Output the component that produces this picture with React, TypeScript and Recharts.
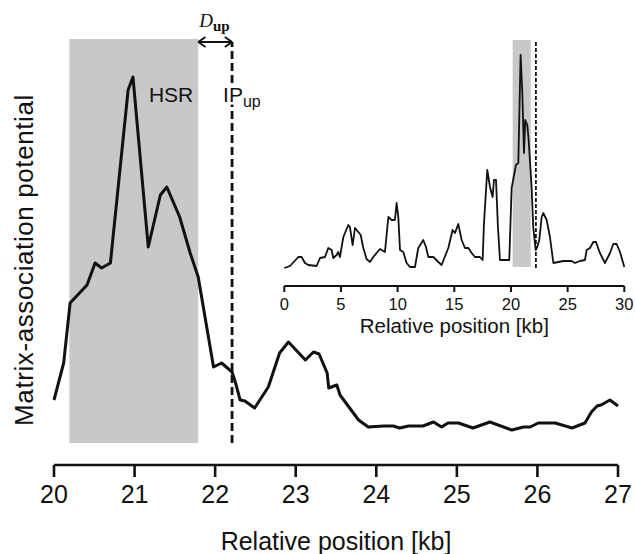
import React from 'react'
import {
  LineChart, Line, XAxis, YAxis, ReferenceArea, ReferenceLine, Label,
} from 'recharts'

const FONT = '"Liberation Sans", Arial, Helvetica, sans-serif'
const INK = '#111'
const SHADE = '#c8c8c8'

// main panel: 20–27 kb
const MAIN_TICKS = [20, 21, 22, 23, 24, 25, 26, 27]
const MAIN_POS = [
  20.0, 20.12, 20.2, 20.41, 20.51, 20.59, 20.7, 20.92, 20.98, 21.17, 21.32, 21.4, 21.56, 21.69, 21.79,
  21.98, 22.08, 22.21, 22.25, 22.31, 22.37, 22.49, 22.66, 22.8, 22.91, 23.12, 23.22, 23.29, 23.39, 23.41,
  23.51, 23.55, 23.78, 23.9, 24.09, 24.21, 24.29, 24.4, 24.58, 24.71, 24.81, 24.89, 25.02, 25.2, 25.41,
  25.68, 25.83, 25.91, 26.01, 26.22, 26.43, 26.59, 26.67, 26.74, 26.79, 26.9, 27.0,
]
const MAIN_MAP = [
  65, 102, 162, 180, 202, 197, 202, 375, 388, 218, 270, 278, 248, 212, 188,
  98, 102, 93, 83, 65, 64, 57, 78, 112, 123, 105, 113, 111, 92, 77,
  80, 70, 45, 38, 39, 39, 37, 39, 39, 43, 38, 42, 42, 37, 43,
  35, 38, 38, 42, 42, 37, 42, 53, 59, 60, 65, 59,
]

// inset: whole 0–30 kb region
const INSET_TICKS = [0, 5, 10, 15, 20, 25, 30]
const INSET_POS = [
  0, 0.5, 1.24, 1.53, 1.82, 2.12, 2.85, 3.15, 3.59, 3.88, 4.18, 4.32, 4.62, 4.76, 4.91,
  5.21, 5.65, 5.79, 6.03, 6.24, 6.53, 6.74, 6.97, 7.26, 7.56, 7.85, 8.44, 8.88, 9.18, 9.47,
  9.76, 9.91, 10.06, 10.21, 10.5, 10.79, 11.09, 11.53, 11.82, 12.26, 12.5, 12.71, 13.15, 13.59, 13.88,
  14.47, 14.85, 15.06, 15.35, 15.65, 15.94, 16.24, 16.53, 16.82, 17.26, 17.5, 17.62, 17.91, 18.15, 18.38,
  18.5, 18.68, 18.85, 19.03, 19.85, 20.06, 20.44, 20.65, 20.85, 21.0, 21.15, 21.26, 21.44, 21.56, 21.82,
  21.97, 22.18, 22.32, 22.5, 22.71, 22.85, 23.15, 23.44, 23.74, 24.62, 25.35, 25.65, 26.09, 26.53, 26.68,
  26.97, 27.26, 27.5, 27.85, 28.29, 28.74, 29.03, 29.32, 29.62, 30,
]
const INSET_MAP = [
  18, 20, 29, 29, 23, 21, 20, 28, 29, 38, 36, 28, 31, 34, 29,
  49, 61, 59, 41, 58, 54, 51, 38, 27, 24, 29, 37, 34, 69, 66,
  66, 83, 69, 36, 34, 23, 19, 19, 38, 46, 39, 29, 29, 24, 21,
  38, 56, 53, 62, 46, 38, 38, 33, 29, 29, 26, 63, 116, 99, 89,
  106, 106, 59, 26, 26, 98, 121, 123, 231, 194, 133, 166, 161, 146, 99,
  58, 36, 39, 46, 69, 73, 66, 49, 23, 25, 25, 23, 25, 26, 36,
  38, 44, 44, 33, 23, 33, 42, 42, 34, 19,
]

const HSR = [20.19, 21.79]
const IP_UP = 22.21
const INSET_HSR = [20.15, 21.75]
const INSET_IP = 22.2

const mainData = MAIN_POS.map((x, i) => ({ x, y: MAIN_MAP[i] }))
const insetData = INSET_POS.map((x, i) => ({ x, y: INSET_MAP[i] }))

function HsrLabel({ viewBox }: any) {
  if (!viewBox) return null
  return (
    <text x={viewBox.x + viewBox.width - 5} y={viewBox.y + 63} textAnchor="end"
      fontFamily={FONT} fontSize={21} fill={INK}>HSR</text>
  )
}

function IpLabel({ viewBox }: any) {
  if (!viewBox) return null
  return (
    <text x={viewBox.x - 9} y={viewBox.y + 60} fontFamily={FONT} fontSize={21} fill={INK}
      stroke="#fff" strokeWidth={5} paintOrder="stroke" strokeLinejoin="round">
      IP<tspan fontSize={16} dy={5}>up</tspan>
    </text>
  )
}

function DupLabel({ viewBox }: any) {
  if (!viewBox) return null
  return (
    <text x={viewBox.x + 1} y={viewBox.y - 15} fontFamily='"Liberation Serif", "Times New Roman", serif' fill={INK}>
      <tspan fontSize={19} fontStyle="italic">D</tspan>
      <tspan fontSize={15} fontWeight="bold" dy={4}>up</tspan>
    </text>
  )
}

function MainPanel() {
  return (
    <LineChart width={635} height={554} data={mainData} margin={{ top: 20, right: 17, left: 54, bottom: 0 }}>
      <ReferenceArea x1={HSR[0]} x2={HSR[1]} y1={22} y2={426} fill={SHADE} fillOpacity={1} stroke="none"
        label={<HsrLabel />} />
      <XAxis type="number" dataKey="x" domain={[20, 27]} ticks={MAIN_TICKS} height={89}
        tickSize={12} tickMargin={8}
        axisLine={{ stroke: INK, strokeWidth: 2.6 }} tickLine={{ stroke: INK, strokeWidth: 2.6 }}
        tick={{ fontSize: 25, fill: INK, fontFamily: FONT }}>
        <Label value="Relative position [kb]" position="insideBottom" offset={4}
          style={{ fontSize: 25, fill: INK, fontFamily: FONT }} />
      </XAxis>
      <YAxis type="number" domain={[0, 445]} hide />
      <ReferenceLine segment={[{ x: IP_UP, y: 22 }, { x: IP_UP, y: 423 }]} stroke={INK} strokeWidth={2.8}
        strokeDasharray="8 4" label={<IpLabel />} />
      <ReferenceLine segment={[{ x: HSR[1], y: 423 }, { x: IP_UP, y: 423 }]} stroke={INK} strokeWidth={2}
        label={<DupLabel />} />
      <ReferenceLine segment={[{ x: HSR[1], y: 423 }, { x: 21.88, y: 428 }]} stroke={INK} strokeWidth={2} />
      <ReferenceLine segment={[{ x: HSR[1], y: 423 }, { x: 21.88, y: 418 }]} stroke={INK} strokeWidth={2} />
      <ReferenceLine segment={[{ x: IP_UP, y: 423 }, { x: 22.12, y: 428 }]} stroke={INK} strokeWidth={2} />
      <ReferenceLine segment={[{ x: IP_UP, y: 423 }, { x: 22.12, y: 418 }]} stroke={INK} strokeWidth={2} />
      <Line type="linear" dataKey="y" stroke={INK} strokeWidth={3} dot={false} isAnimationActive={false}
        strokeLinejoin="round" />
    </LineChart>
  )
}

function InsetPanel() {
  return (
    <LineChart width={365} height={320} data={insetData} margin={{ top: 10, right: 10.7, left: 14.3, bottom: 0 }}>
      <ReferenceArea x1={INSET_HSR[0]} x2={INSET_HSR[1]} y1={19} y2={246} fill={SHADE} fillOpacity={1} stroke="none" />
      <XAxis type="number" dataKey="x" domain={[0, 30]} ticks={INSET_TICKS} height={64}
        tickSize={6} tickMargin={6}
        axisLine={{ stroke: INK, strokeWidth: 2 }} tickLine={{ stroke: INK, strokeWidth: 2 }}
        tick={{ fontSize: 16.5, fill: INK, fontFamily: FONT }}>
        <Label value="Relative position [kb]" position="insideBottom" offset={17}
          style={{ fontSize: 20.5, fill: INK, fontFamily: FONT }} />
      </XAxis>
      <YAxis type="number" domain={[0, 246]} hide />
      <ReferenceLine segment={[{ x: INSET_IP, y: 18 }, { x: INSET_IP, y: 245 }]} stroke={INK} strokeWidth={1.8}
        strokeDasharray="4 2" />
      <Line type="linear" dataKey="y" stroke={INK} strokeWidth={1.8} dot={false} isAnimationActive={false}
        strokeLinejoin="round" />
    </LineChart>
  )
}

export default function App() {
  return (
    <div style={{ position: 'relative', width: 635, height: 554, background: '#fff' }}>
      <style>{'body{margin:0}'}</style>
      <MainPanel />
      <svg width={60} height={554} style={{ position: 'absolute', left: 0, top: 0 }}>
        <text x={33} y={260} transform="rotate(-90 33 260)" textAnchor="middle"
          fontFamily={FONT} fontSize={26} letterSpacing={0.6} fill={INK}>Matrix-association potential</text>
      </svg>
      <div style={{ position: 'absolute', left: 270, top: 30 }}>
        <InsetPanel />
      </div>
    </div>
  )
}
